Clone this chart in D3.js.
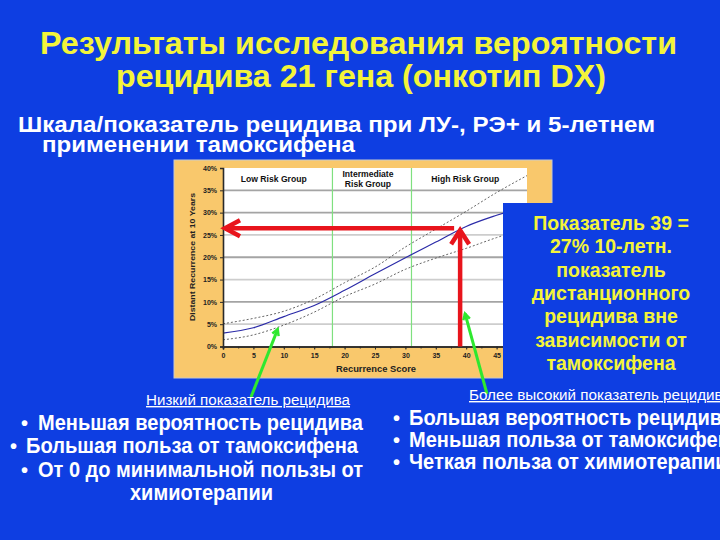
<!DOCTYPE html>
<html><head><meta charset="utf-8">
<script src="https://cdn.jsdelivr.net/npm/d3@7"></script>
<style>html,body{margin:0;padding:0;background:#0E3EE2;} svg{display:block;}</style>
</head><body>
<script>
// ---- data ----
const scores     = [0, 5, 10, 15, 20, 25, 30, 35, 40, 45, 50];
const riskMid    = [3.0, 4.2, 6.7, 9.2, 12.6, 16.3, 19.9, 23.4, 26.9, 29.4, 31.5];
const riskUpper  = [5.1, 6.3, 7.9, 10.6, 14.3, 17.8, 22.3, 26.3, 30.3, 34.5, 38.3];
const riskLower  = [1.5, 2.6, 4.8, 7.7, 11.2, 14.0, 17.3, 19.8, 22.0, 24.4, 26.5];
const yTicks     = [0, 5, 10, 15, 20, 25, 30, 35, 40];
const xTicks     = [0, 5, 10, 15, 20, 25, 30, 35, 40, 45];
const cutoffs    = [18, 31];
const groupNames = [["Low Risk Group"], ["Intermediate", "Risk Group"], ["High Risk Group"]];
const groupRanges = [[0, 18], [18, 31], [31, 50]];
const exampleScore = 39;
const exampleRisk  = 26.5;
const lowPointer   = {score: 9, risk: 3.9};
const highPointer  = {score: 39.8, risk: 7.4};
const titleLines   = ["Результаты исследования вероятности", "рецидива 21 гена (онкотип DX)"];
const subtitleLines = ["Шкала/показатель рецидива при ЛУ-, РЭ+ и 5-летнем", "применении тамоксифена"];
const noteLines    = ["Показатель 39 =", "27% 10-летн.", "показатель", "дистанционного", "рецидива вне", "зависимости от", "тамоксифена"];
const leftLabel    = "Низкий показатель рецидива";
const leftBullets  = ["Меньшая вероятность рецидива", "Большая польза от тамоксифена", "От 0 до минимальной пользы от"];
const leftTail     = "химиотерапии";
const rightLabel   = "Более высокий показатель рецидива";
const rightBullets = ["Большая вероятность рецидива", "Меньшая польза от тамоксифена", "Четкая польза от химиотерапии"];

// ---- drawing ----
const W = 720, H = 540;
const BLUE = "#0E3EE2", YELLOW = "#F4F43A", ORANGE = "#F9C86C", RED = "#E8141C", GREEN = "#2FE82F";
const FONT = "'Liberation Sans', Arial, sans-serif";
const svg = d3.select("body").append("svg").attr("width", W).attr("height", H)
  .style("font-family", FONT);
svg.append("rect").attr("width", W).attr("height", H).attr("fill", BLUE);

// titles
const tl = [{x: 40, w: 637, y: 54}, {x: 116, w: 490, y: 87}];
titleLines.forEach((t, i) => {
  svg.append("text").attr("x", tl[i].x).attr("y", tl[i].y).text(t)
    .attr("fill", YELLOW).attr("font-weight", "bold").attr("font-size", 32)
    .attr("textLength", tl[i].w).attr("lengthAdjust", "spacingAndGlyphs");
});
const sl = [{x: 18, w: 637, y: 132}, {x: 42, w: 313, y: 152}];
subtitleLines.forEach((t, i) => {
  svg.append("text").attr("x", sl[i].x).attr("y", sl[i].y).text(t)
    .attr("fill", "#fff").attr("font-weight", "bold").attr("font-size", 21.5)
    .attr("textLength", sl[i].w).attr("lengthAdjust", "spacingAndGlyphs");
});

// chart panel
svg.append("rect").attr("x", 174).attr("y", 160).attr("width", 378).attr("height", 218)
  .attr("fill", ORANGE).attr("stroke", "#c9c9c9").attr("stroke-width", 1);

const x = d3.scaleLinear().domain([0, 50]).range([223, 527]);
const y = d3.scaleLinear().domain([0, 40]).range([346.5, 168]);

svg.append("rect").attr("x", x(0)).attr("y", y(40)).attr("width", x(50) - x(0)).attr("height", y(0) - y(40))
  .attr("fill", "#fff");

// gridlines
svg.append("g").selectAll("line").data(yTicks.filter(d => d > 0 && d < 40)).join("line")
  .attr("x1", x(0)).attr("x2", x(50)).attr("y1", d => y(d)).attr("y2", d => y(d))
  .attr("stroke", d => (d % 10 === 0 || d === 35) ? "#a4a4a4" : "#cdcdcd")
  .attr("stroke-width", 1.8);

// cutoffs
svg.append("g").selectAll("line").data(cutoffs).join("line")
  .attr("x1", d => x(d)).attr("x2", d => x(d)).attr("y1", y(40)).attr("y2", y(0))
  .attr("stroke", "#7fe07f").attr("stroke-width", 1.2);

// group labels
groupNames.forEach((lines, i) => {
  const cx = x((groupRanges[i][0] + groupRanges[i][1]) / 2) - 4;
  const t = svg.append("text").attr("text-anchor", "middle").attr("font-size", 8.6)
    .attr("font-weight", "bold").attr("fill", "#111");
  const y0 = lines.length === 1 ? 181.5 : 176.5;
  lines.forEach((ln, j) => t.append("tspan").attr("x", cx).attr("y", y0 + j * 10.5).text(ln));
});

// curves
const line = d3.line().x(d => x(d[0])).y(d => y(d[1])).curve(d3.curveMonotoneX);
svg.append("path").datum(scores.map((s, i) => [s, riskUpper[i]])).attr("d", line)
  .attr("fill", "none").attr("stroke", "#555").attr("stroke-width", 0.9).attr("stroke-dasharray", "2,2");
svg.append("path").datum(scores.map((s, i) => [s, riskLower[i]])).attr("d", line)
  .attr("fill", "none").attr("stroke", "#555").attr("stroke-width", 0.9).attr("stroke-dasharray", "2,2");
svg.append("path").datum(scores.map((s, i) => [s, riskMid[i]])).attr("d", line)
  .attr("fill", "none").attr("stroke", "#2b2ba8").attr("stroke-width", 1.2);

// axes
const ya = svg.append("g").attr("transform", `translate(${x(0)},0)`)
  .call(d3.axisLeft(y).tickValues(yTicks).tickFormat(d => d + "%").tickSize(3).tickPadding(3));
const xa = svg.append("g").attr("transform", `translate(0,${y(0)})`)
  .call(d3.axisBottom(x).tickValues(xTicks).tickSize(3).tickPadding(4));
svg.append("g").attr("transform", `translate(0,${y(0)})`)
  .call(d3.axisBottom(x).tickValues(d3.range(0, 50.1, 2.5)).tickFormat("").tickSize(2));
[ya, xa].forEach(a => {
  a.selectAll("text").attr("font-size", 7).attr("font-weight", "bold").attr("fill", "#222")
    .attr("font-family", FONT);
});
svg.selectAll(".tick line").attr("stroke", "#2a2a2a");
svg.selectAll("path.domain").attr("stroke", "#2a2a2a").attr("stroke-width", 1.6);

svg.append("text").attr("transform", "translate(195,257) rotate(-90)").attr("text-anchor", "middle")
  .attr("font-size", 8).attr("font-weight", "bold").attr("fill", "#222")
  .attr("textLength", 128).attr("lengthAdjust", "spacingAndGlyphs")
  .text("Distant Recurrence at 10 Years");
svg.append("text").attr("x", 376).attr("y", 372).attr("text-anchor", "middle")
  .attr("font-size", 9).attr("font-weight", "bold").attr("fill", "#222")
  .attr("textLength", 80).attr("lengthAdjust", "spacingAndGlyphs")
  .text("Recurrence Score");

// red arrows
const ex = x(exampleScore), ey = y(exampleRisk);
const red = svg.append("g").attr("stroke", RED).attr("fill", "none").attr("stroke-width", 4.5);
red.append("line").attr("x1", ex - 6).attr("x2", x(0) + 2).attr("y1", ey).attr("y2", ey);
red.append("path").attr("d", `M${x(0) + 17},${ey - 8} L${x(0) + 2},${ey} L${x(0) + 17},${ey + 8}`);
red.append("line").attr("x1", ex).attr("x2", ex).attr("y1", y(0)).attr("y2", ey + 3);
red.append("path").attr("d", `M${ex - 9},${ey + 16} L${ex},${ey + 2} L${ex + 9},${ey + 16}`);

// blue note box
svg.append("rect").attr("x", 503).attr("y", 203).attr("width", 217).attr("height", 180).attr("fill", BLUE);
noteLines.forEach((t, i) => {
  svg.append("text").attr("x", 611).attr("y", 230 + i * 23.33).attr("text-anchor", "middle")
    .attr("fill", YELLOW).attr("font-weight", "bold").attr("font-size", 19.5).text(t);
});

// green pointers
function greenArrow(x0, y0, p) {
  const tx = x(p.score), ty = y(p.risk);
  const ang = Math.atan2(ty - y0, tx - x0);
  const g = svg.append("g").attr("stroke", GREEN).attr("stroke-width", 3).attr("fill", "none");
  g.append("line").attr("x1", x0).attr("y1", y0).attr("x2", tx).attr("y2", ty);
  const L = 7, a = 0.5;
  g.append("path").attr("d",
    `M${tx - L * Math.cos(ang - a)},${ty - L * Math.sin(ang - a)} L${tx},${ty} L${tx - L * Math.cos(ang + a)},${ty - L * Math.sin(ang + a)}`)
    .attr("stroke-width", 2.5);
}
greenArrow(251, 397, lowPointer);
greenArrow(487, 394, highPointer);

// bottom texts
svg.append("text").attr("x", 146).attr("y", 405).attr("fill", "#fff").attr("font-size", 14)
  .attr("text-decoration", "underline").attr("textLength", 204).attr("lengthAdjust", "spacingAndGlyphs")
  .text(leftLabel);
svg.append("text").attr("x", 469).attr("y", 400).attr("fill", "#fff").attr("font-size", 14)
  .attr("text-decoration", "underline").attr("textLength", 262).attr("lengthAdjust", "spacingAndGlyphs")
  .text(rightLabel);

const BFS = 21.5;
const lpos = [{b: 21, t: 38, y: 430, w: 325}, {b: 10, t: 26, y: 453, w: 332}, {b: 21, t: 38, y: 477, w: 325}];
let ratio = 1;
leftBullets.forEach((t, i) => {
  svg.append("text").attr("x", lpos[i].b).attr("y", lpos[i].y).attr("fill", "#fff")
    .attr("font-size", 20).attr("font-weight", "bold").text("•");
  const tx = svg.append("text").attr("x", lpos[i].t).attr("y", lpos[i].y).attr("fill", "#fff")
    .attr("font-size", BFS).attr("font-weight", "bold").text(t);
  const nat = tx.node().getComputedTextLength();
  if (i === 0) ratio = lpos[i].w / nat;
  tx.attr("textLength", lpos[i].w).attr("lengthAdjust", "spacingAndGlyphs");
});
const tail = svg.append("text").attr("x", 130).attr("y", 500).attr("fill", "#fff")
  .attr("font-size", BFS).attr("font-weight", "bold").text(leftTail);
tail.attr("textLength", 143).attr("lengthAdjust", "spacingAndGlyphs");

rightBullets.forEach((t, i) => {
  const yy = 425 + i * 22;
  svg.append("text").attr("x", 393).attr("y", yy).attr("fill", "#fff")
    .attr("font-size", 20).attr("font-weight", "bold").text("•");
  const tx = svg.append("text").attr("x", 409).attr("y", yy).attr("fill", "#fff")
    .attr("font-size", BFS).attr("font-weight", "bold").text(t);
  const nat = tx.node().getComputedTextLength();
  tx.attr("textLength", nat * ratio).attr("lengthAdjust", "spacingAndGlyphs");
});
</script>
</body></html>
